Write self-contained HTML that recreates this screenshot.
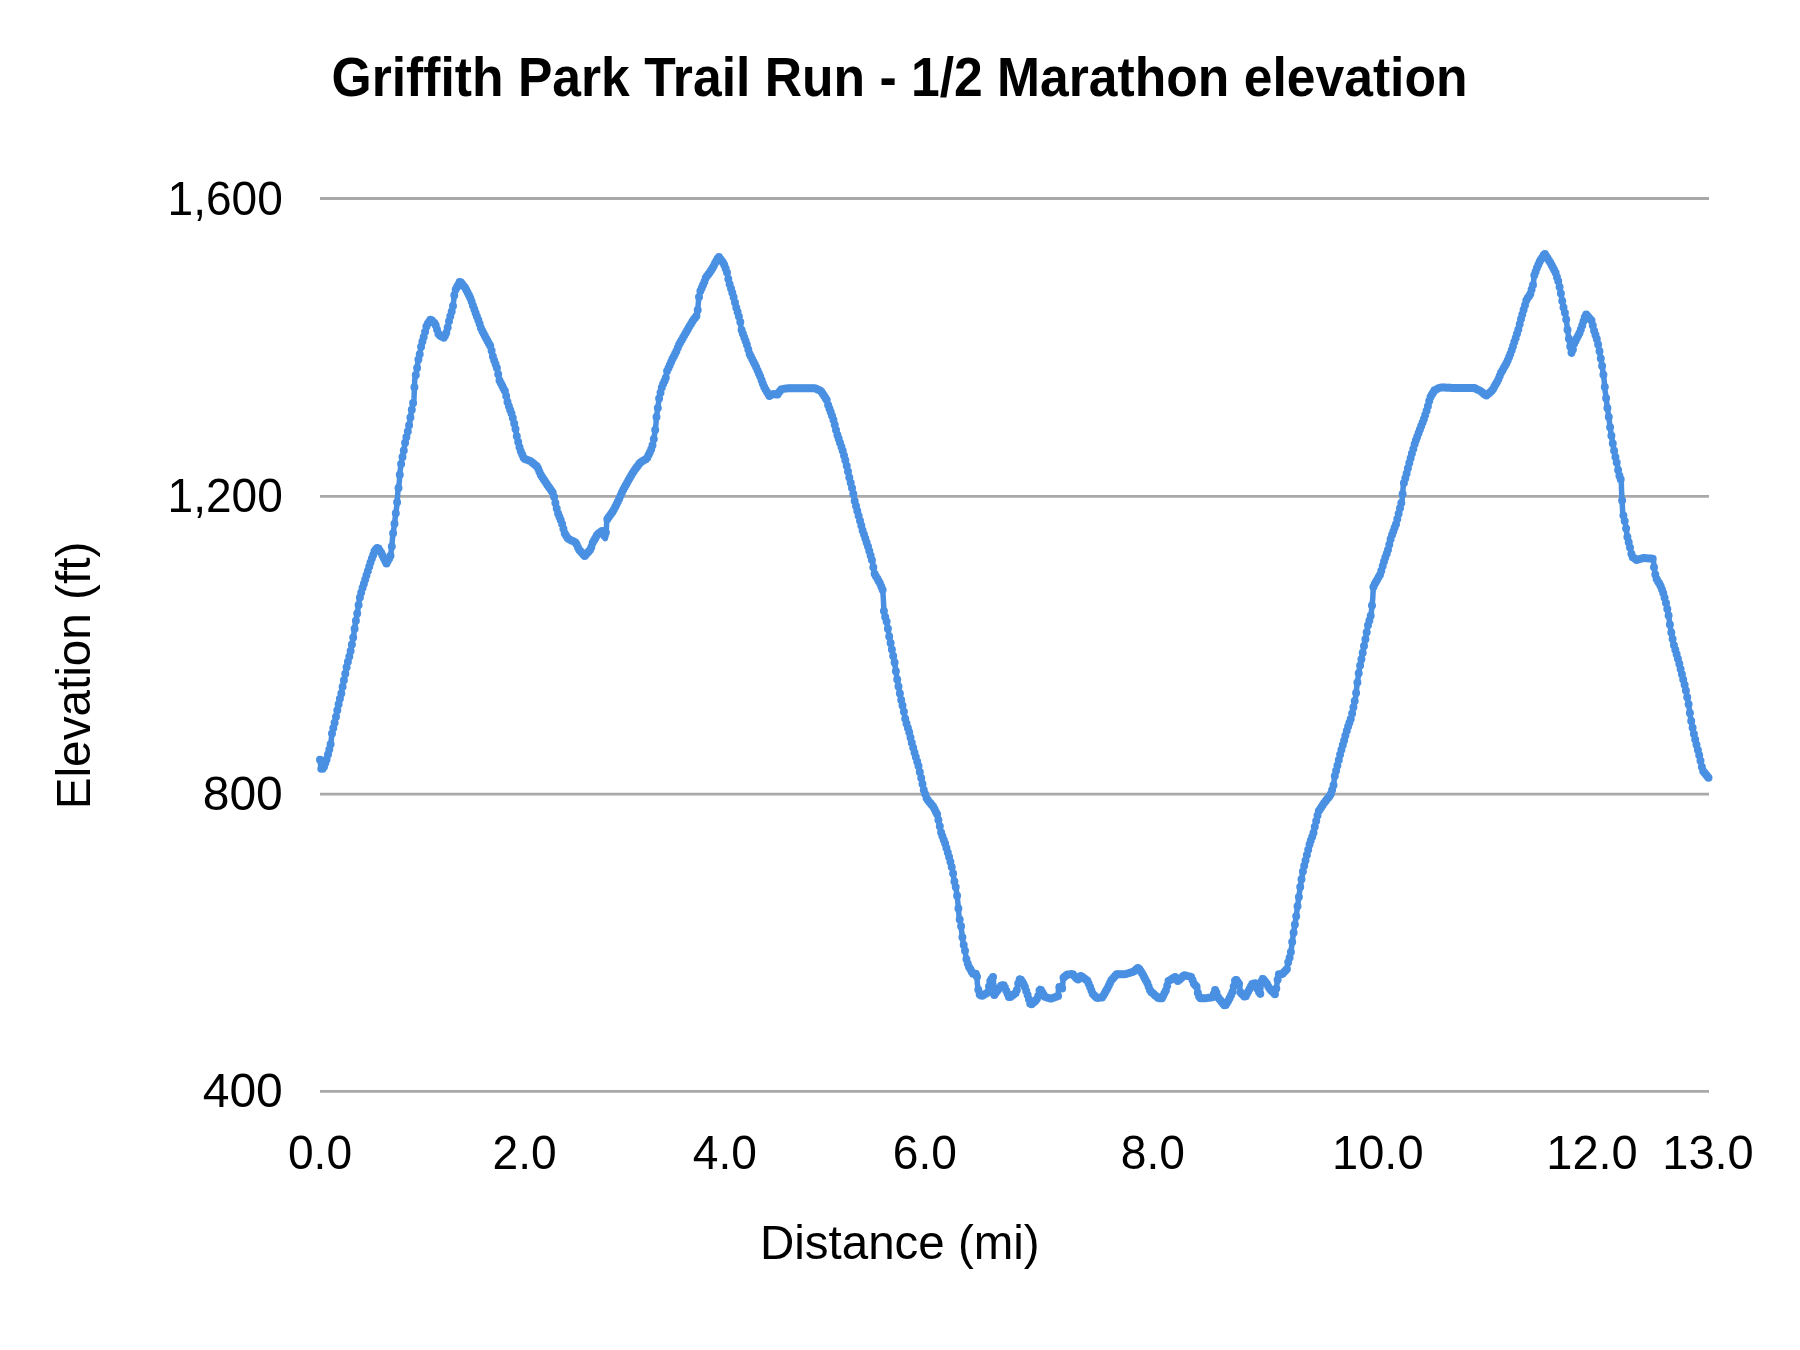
<!DOCTYPE html><html><head><meta charset="utf-8"><title>Griffith Park Trail Run - 1/2 Marathon elevation</title>
<style>html,body{margin:0;padding:0;background:#fff;overflow:hidden;}svg{display:block;will-change:transform;}text{font-family:"Liberation Sans", Arial, sans-serif;fill:#000;}</style></head><body>
<svg width="1800" height="1350" viewBox="0 0 1800 1350">
<rect width="1800" height="1350" fill="#ffffff"/>
<text x="331.5" y="96.3" font-size="55" font-weight="bold" textLength="1136" lengthAdjust="spacingAndGlyphs">Griffith Park Trail Run - 1/2 Marathon elevation</text>
<line x1="320" y1="198.5" x2="1709" y2="198.5" stroke="#a9a9a9" stroke-width="2.8"/>
<line x1="320" y1="496.3" x2="1709" y2="496.3" stroke="#a9a9a9" stroke-width="2.8"/>
<line x1="320" y1="794.1" x2="1709" y2="794.1" stroke="#a9a9a9" stroke-width="2.8"/>
<line x1="320" y1="1091.4" x2="1709" y2="1091.4" stroke="#a9a9a9" stroke-width="2.8"/>
<text x="282.8" y="214.5" font-size="48" text-anchor="end" textLength="115.2" lengthAdjust="spacingAndGlyphs">1,600</text>
<text x="282.8" y="512.3" font-size="48" text-anchor="end" textLength="115.2" lengthAdjust="spacingAndGlyphs">1,200</text>
<text x="282.8" y="810.1" font-size="48" text-anchor="end">800</text>
<text x="282.8" y="1107.4" font-size="48" text-anchor="end">400</text>
<text x="320" y="1169.2" font-size="48" text-anchor="middle" textLength="64.1" lengthAdjust="spacingAndGlyphs">0.0</text>
<text x="524.6" y="1169.2" font-size="48" text-anchor="middle" textLength="64.1" lengthAdjust="spacingAndGlyphs">2.0</text>
<text x="724.8" y="1169.2" font-size="48" text-anchor="middle" textLength="64.1" lengthAdjust="spacingAndGlyphs">4.0</text>
<text x="924.8" y="1169.2" font-size="48" text-anchor="middle" textLength="64.1" lengthAdjust="spacingAndGlyphs">6.0</text>
<text x="1152.8" y="1169.2" font-size="48" text-anchor="middle" textLength="64.1" lengthAdjust="spacingAndGlyphs">8.0</text>
<text x="1377.8" y="1169.2" font-size="48" text-anchor="middle" textLength="91.5" lengthAdjust="spacingAndGlyphs">10.0</text>
<text x="1592" y="1169.2" font-size="48" text-anchor="middle" textLength="91.5" lengthAdjust="spacingAndGlyphs">12.0</text>
<text x="1708" y="1169.2" font-size="48" text-anchor="middle" textLength="91.5" lengthAdjust="spacingAndGlyphs">13.0</text>
<text x="899.8" y="1258.7" font-size="48" text-anchor="middle" textLength="279.7" lengthAdjust="spacingAndGlyphs">Distance (mi)</text>
<text transform="translate(89.5,675.5) rotate(-90)" x="0" y="0" font-size="48" text-anchor="middle" textLength="267.5" lengthAdjust="spacingAndGlyphs">Elevation (ft)</text>
<polyline points="320.0,759.7 321.0,768.8 323.2,768.8 326.5,760.0 328.4,753.0 330.7,744.1 332.0,733.3 335.3,720.0 338.0,706.7 341.3,693.3 344.0,680.0 346.7,666.7 350.7,650.7 353.3,637.3 355.3,624.0 357.3,613.3 359.3,600.0 362.0,589.4 363.7,584.4 367.4,572.6 371.1,560.7 374.8,550.4 377.8,547.4 381.5,553.3 386.4,563.6 390.4,556.3 391.9,545.9 392.6,537.0 394.1,526.7 395.6,514.8 397.0,504.4 397.8,492.6 399.3,482.2 400.0,471.9 401.5,461.5 403.7,451.1 405.2,442.2 407.4,433.3 409.6,423.0 411.3,412.0 414.0,398.7 414.7,380.0 416.7,370.7 418.0,361.3 420.0,353.3 421.3,345.3 424.0,336.0 426.7,325.3 430.7,319.3 435.3,324.0 438.7,334.7 444.0,338.0 446.7,332.0 449.3,320.0 452.7,308.0 454.0,298.7 454.7,291.3 458.0,285.3 460.0,281.3 465.3,288.0 470.7,298.7 473.3,306.7 479.3,322.7 481.3,329.3 490.7,346.7 492.7,356.0 497.3,369.3 499.3,380.0 505.3,392.0 508.0,404.0 512.0,414.7 515.3,428.0 517.3,438.7 520.0,449.3 524.0,458.7 530.7,461.3 537.3,466.7 540.7,474.7 546.7,484.0 553.3,493.3 555.3,502.7 558.0,513.3 561.3,521.3 564.7,533.3 568.0,538.7 576.0,542.7 578.7,549.3 584.7,556.0 590.7,549.3 592.7,542.7 597.3,534.7 603.0,530.0 605.3,538.7 606.5,527.0 606.7,520.0 613.3,510.7 618.7,500.0 622.7,490.7 629.3,478.7 633.3,472.0 640.0,462.7 646.7,458.7 650.7,450.7 653.3,442.7 654.7,433.3 656.0,424.0 656.2,418.7 658.0,406.7 659.3,397.3 662.0,386.7 666.0,377.3 666.7,372.0 672.0,360.0 676.7,350.7 678.7,345.3 684.0,336.0 689.3,326.7 693.3,320.0 697.3,314.7 698.0,306.7 698.7,298.7 700.0,292.0 704.0,282.7 706.0,277.3 712.0,269.3 715.3,262.7 718.7,256.7 724.0,264.0 727.3,273.3 728.7,281.3 733.3,296.0 736.0,306.7 740.0,320.0 741.3,329.3 746.7,344.0 749.3,353.3 756.0,366.7 760.0,376.0 764.0,386.7 769.3,396.0 773.0,394.0 777.3,394.7 781.3,389.3 788.0,388.2 800.0,388.3 814.7,388.3 820.6,390.6 824.2,396.0 826.7,400.0 827.8,404.4 830.6,411.7 833.0,418.3 837.3,434.7 842.7,450.7 846.0,462.7 849.3,477.3 852.7,490.7 854.7,501.3 858.7,516.0 862.7,530.7 868.0,546.7 872.7,562.7 874.0,572.7 877.3,578.7 880.0,583.3 882.7,590.0 883.3,598.0 884.0,612.7 886.7,622.0 889.3,636.7 892.0,650.0 894.7,663.3 896.7,676.7 898.7,687.3 900.7,698.0 903.3,708.7 905.3,719.3 909.3,732.7 912.7,746.0 914.7,753.3 918.7,766.7 921.3,778.7 924.0,790.7 926.7,798.7 933.3,806.7 937.3,814.7 939.3,824.0 941.3,833.3 945.3,844.0 948.0,853.3 950.7,862.7 952.7,870.7 954.0,880.0 956.0,888.0 957.3,897.3 958.2,906.0 959.0,916.0 960.9,924.9 961.8,932.9 963.1,942.7 964.9,949.8 966.2,958.7 968.4,965.8 972.9,973.8 976.9,973.8 977.3,983.6 979.1,994.2 981.8,996.0 988.0,992.4 989.8,981.8 993.3,976.4 994.2,995.1 1001.3,985.3 1004.0,985.3 1009.3,997.8 1016.4,992.4 1018.2,983.6 1020.0,978.2 1024.4,985.3 1030.7,1004.9 1036.0,1000.4 1037.8,997.8 1040.0,988.4 1044.9,996.9 1051.1,998.7 1058.2,996.0 1058.5,986.2 1062.7,988.9 1063.0,978.2 1067.1,974.7 1072.4,973.8 1077.8,980.0 1080.4,975.6 1087.6,980.9 1092.9,994.2 1097.1,998.2 1102.4,997.3 1107.8,987.6 1111.3,980.4 1116.7,974.2 1125.6,974.2 1133.6,971.6 1138.4,967.6 1141.6,972.4 1146.9,982.2 1150.4,991.1 1158.4,998.2 1162.0,998.2 1166.4,989.3 1168.2,981.3 1175.3,976.9 1178.0,981.3 1184.2,975.1 1191.3,976.9 1194.0,984.0 1197.6,987.6 1197.8,994.0 1200.0,998.2 1205.6,998.2 1212.7,997.3 1215.3,989.3 1218.0,997.3 1225.1,1006.2 1228.7,1000.0 1232.2,992.9 1235.5,978.7 1239.8,984.9 1240.0,992.0 1245.1,997.3 1252.2,984.0 1254.9,983.1 1260.2,994.7 1262.0,977.8 1266.4,983.1 1270.0,989.3 1275.3,994.7 1277.1,983.1 1278.4,974.2 1282.4,974.2 1286.9,968.9 1288.7,960.0 1290.4,955.6 1291.3,949.3 1292.2,942.2 1293.6,932.4 1294.9,924.4 1296.2,916.4 1297.6,905.8 1298.9,896.9 1300.2,887.1 1303.0,870.7 1305.9,858.9 1309.6,844.1 1313.3,833.7 1315.6,823.3 1318.5,811.5 1324.4,802.6 1330.4,795.2 1333.3,786.3 1334.8,775.9 1337.8,764.1 1340.7,752.2 1343.7,741.9 1347.4,728.5 1351.1,718.1 1353.3,707.8 1355.6,697.0 1357.1,684.4 1359.4,668.8 1362.6,653.3 1365.7,637.7 1368.0,625.3 1371.1,614.4 1372.7,598.9 1373.4,586.4 1380.4,574.0 1383.5,563.1 1388.2,549.1 1391.3,536.7 1396.0,524.2 1399.1,511.8 1402.2,499.3 1403.3,485.2 1406.3,474.8 1409.3,463.0 1412.2,452.6 1415.2,442.2 1419.6,430.4 1424.1,418.5 1427.8,406.7 1430.0,397.8 1434.4,390.4 1440.4,387.4 1456.7,388.1 1474.4,388.1 1480.4,391.1 1486.3,395.6 1492.2,390.4 1498.1,380.0 1501.1,372.6 1507.0,362.2 1510.7,353.3 1514.8,340.7 1518.5,328.9 1520.7,320.0 1523.7,309.6 1526.7,299.3 1530.0,295.0 1533.5,283.0 1534.0,276.0 1537.0,268.0 1539.0,262.8 1544.6,253.6 1550.4,262.8 1555.3,272.0 1558.4,281.4 1560.8,293.0 1563.0,305.2 1565.9,317.0 1567.4,328.9 1569.6,343.7 1571.9,354.1 1574.1,343.7 1580.0,331.9 1585.9,314.1 1591.5,320.5 1594.0,330.3 1597.4,341.0 1599.8,353.0 1601.8,364.0 1603.7,376.3 1605.2,391.1 1606.7,403.0 1608.9,417.8 1610.4,429.6 1612.7,443.3 1614.7,454.0 1617.3,464.7 1618.7,474.0 1621.3,480.7 1621.5,490.0 1622.0,499.3 1622.7,512.7 1625.3,523.3 1627.3,536.7 1630.0,547.3 1632.0,556.7 1636.7,560.0 1643.3,558.0 1653.3,558.7 1654.0,567.3 1656.0,578.0 1660.7,586.0 1664.0,595.3 1666.7,606.0 1668.5,614.8 1670.7,629.6 1673.7,644.4 1678.1,659.3 1681.9,674.1 1685.6,688.9 1688.5,703.7 1690.7,718.5 1693.7,733.3 1697.4,748.1 1700.4,760.0 1702.6,770.4 1708.5,777.8" fill="none" stroke="#4a90e2" stroke-width="5.5" stroke-linejoin="round" stroke-linecap="round"/>
<path d="M320.0 759.7h0M321.3 768.8h0M322.7 768.8h0M324.0 766.7h0M325.3 763.1h0M326.6 759.4h0M328.0 754.5h0M329.3 749.5h0M330.6 744.3h0M332.0 733.5h0M333.3 728.1h0M334.6 722.7h0M336.0 716.7h0M337.3 710.2h0M338.6 704.2h0M339.9 698.8h0M341.3 693.4h0M342.6 686.8h0M343.9 680.3h0M345.3 673.7h0M346.6 667.2h0M347.9 661.8h0M349.3 656.5h0M350.6 651.1h0M351.9 644.4h0M353.2 637.6h0M354.6 628.8h0M355.9 620.7h0M357.2 613.6h0M358.6 604.9h0M359.9 597.6h0M361.2 592.4h0M362.6 587.8h0M363.9 583.8h0M365.2 579.6h0M366.5 575.3h0M367.9 571.1h0M369.2 566.8h0M370.5 562.5h0M371.9 558.6h0M373.2 554.9h0M374.5 551.2h0M375.9 549.3h0M377.2 548.0h0M378.5 548.5h0M379.8 550.7h0M381.2 552.8h0M382.5 555.4h0M383.8 558.2h0M385.2 561.0h0M386.5 563.4h0M387.8 561.0h0M389.2 558.6h0M390.5 555.7h0M391.8 546.5h0M393.1 533.2h0M394.5 523.7h0M395.8 513.2h0M397.1 502.3h0M398.5 488.0h0M399.8 474.8h0M401.1 464.1h0M402.5 457.0h0M403.8 450.6h0M405.1 442.7h0M406.4 437.1h0M407.8 431.5h0M409.1 425.3h0M410.4 417.6h0M411.8 409.7h0M413.1 403.1h0M414.4 387.2h0M415.8 375.1h0M417.1 367.9h0M418.4 359.6h0M419.7 354.3h0M421.1 346.7h0M422.4 341.5h0M423.7 336.9h0M425.1 331.8h0M426.4 326.5h0M427.7 323.8h0M429.1 321.8h0M430.4 319.8h0M431.7 320.3h0M433.0 321.7h0M434.4 323.1h0M435.7 325.3h0M437.0 329.5h0M438.4 333.7h0M439.7 335.3h0M441.0 336.2h0M442.4 337.0h0M443.7 337.8h0M445.0 335.7h0M446.3 332.8h0M447.7 327.5h0M449.0 321.3h0M450.3 316.3h0M451.7 311.6h0M453.0 305.9h0M454.3 295.2h0M455.7 289.6h0M457.0 287.1h0M458.3 284.7h0M459.6 282.0h0M461.0 282.5h0M462.3 284.2h0M463.6 285.9h0M465.0 287.6h0M466.3 290.0h0M467.6 292.6h0M469.0 295.3h0M470.3 297.9h0M471.6 301.5h0M472.9 305.6h0M474.3 309.3h0M475.6 312.9h0M476.9 316.4h0M478.3 320.0h0M479.6 323.7h0M480.9 328.1h0M482.3 331.1h0M483.6 333.5h0M484.9 336.0h0M486.2 338.5h0M487.6 340.9h0M488.9 343.4h0M490.2 345.8h0M491.6 350.7h0M492.9 356.6h0M494.2 360.4h0M495.6 364.3h0M496.9 368.1h0M498.2 374.2h0M499.5 380.5h0M500.9 383.2h0M502.2 385.8h0M503.5 388.5h0M504.9 391.1h0M506.2 396.0h0M507.5 401.9h0M508.9 406.3h0M510.2 409.9h0M511.5 413.4h0M512.8 418.1h0M514.2 423.5h0M515.5 429.1h0M516.8 436.2h0M518.2 442.1h0M519.5 447.3h0M520.8 451.3h0M522.2 454.4h0M523.5 457.5h0M524.8 459.0h0M526.1 459.5h0M527.5 460.1h0M528.8 460.6h0M530.1 461.1h0M531.5 461.9h0M532.8 463.0h0M534.1 464.1h0M535.5 465.2h0M536.8 466.3h0M538.1 468.6h0M539.4 471.8h0M540.8 474.8h0M542.1 476.9h0M543.4 478.9h0M544.8 481.0h0M546.1 483.1h0M547.4 485.0h0M548.8 486.9h0M550.1 488.8h0M551.4 490.7h0M552.7 492.5h0M554.1 497.0h0M555.4 503.1h0M556.7 508.4h0M558.1 513.5h0M559.4 516.7h0M560.7 519.9h0M562.1 524.0h0M563.4 528.7h0M564.7 533.3h0M566.0 535.5h0M567.4 537.7h0M568.7 539.1h0M570.0 539.7h0M571.4 540.4h0M572.7 541.0h0M574.0 541.7h0M575.4 542.4h0M576.7 544.4h0M578.0 547.6h0M579.3 550.0h0M580.7 551.5h0M582.0 553.0h0M583.3 554.5h0M584.7 556.0h0M586.0 554.5h0M587.3 553.1h0M588.7 551.6h0M590.0 550.1h0M591.3 547.3h0M592.6 542.9h0M594.0 540.5h0M595.3 538.2h0M596.6 535.8h0M598.0 534.1h0M599.3 533.1h0M600.6 532.0h0M602.0 530.9h0M603.3 531.1h0M604.6 536.1h0M605.9 532.4h0M607.3 519.2h0M608.6 517.3h0M609.9 515.4h0M611.3 513.6h0M612.6 511.7h0M613.9 509.5h0M615.3 506.8h0M616.6 504.2h0M617.9 501.5h0M619.2 498.7h0M620.6 495.6h0M621.9 492.5h0M623.2 489.7h0M624.6 487.3h0M625.9 484.9h0M627.2 482.5h0M628.6 480.0h0M629.9 477.7h0M631.2 475.5h0M632.5 473.3h0M633.9 471.2h0M635.2 469.3h0M636.5 467.5h0M637.9 465.7h0M639.2 463.8h0M640.5 462.4h0M641.9 461.6h0M643.2 460.8h0M644.5 460.0h0M645.8 459.2h0M647.2 457.7h0M648.5 455.1h0M649.8 452.4h0M651.2 449.3h0M652.5 445.2h0M653.8 439.1h0M655.2 430.0h0M656.5 417.1h0M657.8 407.9h0M659.1 398.4h0M660.5 392.7h0M661.8 387.4h0M663.1 384.0h0M664.5 380.9h0M665.8 377.8h0M667.1 371.0h0M668.5 368.0h0M669.8 365.0h0M671.1 362.0h0M672.4 359.1h0M673.8 356.5h0M675.1 353.8h0M676.4 351.2h0M677.8 347.8h0M679.1 344.6h0M680.4 342.3h0M681.8 339.9h0M683.1 337.6h0M684.4 335.3h0M685.7 332.9h0M687.1 330.6h0M688.4 328.3h0M689.7 326.0h0M691.1 323.7h0M692.4 321.5h0M693.7 319.4h0M695.1 317.7h0M696.4 315.9h0M697.7 309.9h0M699.0 296.9h0M700.4 291.1h0M701.7 288.0h0M703.0 284.9h0M704.4 281.7h0M705.7 278.1h0M707.0 275.9h0M708.4 274.2h0M709.7 272.4h0M711.0 270.6h0M712.3 268.6h0M713.7 265.9h0M715.0 263.3h0M716.3 260.9h0M717.7 258.5h0M719.0 257.1h0M720.3 258.9h0M721.7 260.8h0M723.0 262.6h0M724.3 264.9h0M725.6 268.6h0M727.0 272.4h0M728.3 279.1h0M729.6 284.3h0M731.0 288.6h0M732.3 292.8h0M733.6 297.3h0M735.0 302.6h0M736.3 307.7h0M737.6 312.1h0M738.9 316.5h0M740.3 322.0h0M741.6 330.1h0M742.9 333.8h0M744.3 337.4h0M745.6 341.0h0M746.9 344.8h0M748.3 349.6h0M749.6 353.9h0M750.9 356.5h0M752.2 359.2h0M753.6 361.9h0M754.9 364.5h0M756.2 367.3h0M757.6 370.4h0M758.9 373.4h0M760.2 376.6h0M761.6 380.2h0M762.9 383.7h0M764.2 387.1h0M765.5 389.4h0M766.9 391.8h0M768.2 394.1h0M769.5 395.9h0M770.9 395.2h0M772.2 394.4h0M773.5 394.1h0M774.9 394.3h0M776.2 394.5h0M777.5 394.4h0M778.8 392.6h0M780.2 390.8h0M781.5 389.3h0M782.8 389.0h0M784.2 388.8h0M785.5 388.6h0M786.8 388.4h0M788.2 388.2h0M789.5 388.2h0M790.8 388.2h0M792.1 388.2h0M793.5 388.2h0M794.8 388.3h0M796.1 388.3h0M797.5 388.3h0M798.8 388.3h0M800.1 388.3h0M801.5 388.3h0M802.8 388.3h0M804.1 388.3h0M805.4 388.3h0M806.8 388.3h0M808.1 388.3h0M809.4 388.3h0M810.8 388.3h0M812.1 388.3h0M813.4 388.3h0M814.8 388.3h0M816.1 388.8h0M817.4 389.4h0M818.7 389.9h0M820.1 390.4h0M821.4 391.8h0M822.7 393.8h0M824.1 395.8h0M825.4 397.9h0M826.7 400.1h0M828.1 405.1h0M829.4 408.5h0M830.7 412.0h0M832.0 415.7h0M833.4 419.7h0M834.7 424.8h0M836.0 429.9h0M837.4 434.9h0M838.7 438.8h0M840.0 442.8h0M841.4 446.7h0M842.7 450.7h0M844.0 455.5h0M845.3 460.3h0M846.7 465.7h0M848.0 471.6h0M849.3 477.5h0M850.7 482.7h0M852.0 487.9h0M853.3 494.0h0M854.7 501.1h0M856.0 506.0h0M857.3 510.9h0M858.6 515.8h0M860.0 520.7h0M861.3 525.6h0M862.6 530.5h0M864.0 534.5h0M865.3 538.5h0M866.6 542.6h0M868.0 546.6h0M869.3 551.1h0M870.6 555.6h0M871.9 560.1h0M873.3 567.2h0M874.6 573.8h0M875.9 576.2h0M877.3 578.6h0M878.6 580.9h0M879.9 583.2h0M881.3 586.4h0M882.6 589.7h0M883.9 611.0h0M885.2 617.0h0M886.6 621.6h0M887.9 628.8h0M889.2 636.4h0M890.6 643.0h0M891.9 649.5h0M893.2 656.1h0M894.6 662.6h0M895.9 671.3h0M897.2 679.5h0M898.5 686.5h0M899.9 693.6h0M901.2 700.1h0M902.5 705.6h0M903.9 711.7h0M905.2 718.8h0M906.5 723.4h0M907.9 727.9h0M909.2 732.3h0M910.5 737.5h0M911.8 742.7h0M913.2 747.8h0M914.5 752.6h0M915.8 757.1h0M917.2 761.6h0M918.5 766.0h0M919.8 771.9h0M921.2 778.1h0M922.5 784.0h0M923.8 789.9h0M925.1 794.1h0M926.5 798.0h0M927.8 800.0h0M929.1 801.7h0M930.5 803.3h0M931.8 804.9h0M933.1 806.5h0M934.5 809.0h0M935.8 811.7h0M937.1 814.3h0M938.4 820.0h0M939.8 826.2h0M941.1 832.4h0M942.4 836.3h0M943.8 839.9h0M945.1 843.5h0M946.4 847.9h0M947.8 852.5h0M949.1 857.1h0M950.4 861.7h0M951.7 866.9h0M953.1 873.4h0M954.4 881.6h0M955.7 887.0h0M957.1 895.7h0M958.4 908.5h0M959.7 919.4h0M961.1 926.3h0M962.4 937.3h0M963.7 945.1h0M965.0 950.8h0M966.4 959.3h0M967.7 963.6h0M969.0 966.9h0M970.4 969.3h0M971.7 971.7h0M973.0 973.8h0M974.4 973.8h0M975.7 973.8h0M977.0 976.7h0M978.3 989.8h0M979.7 994.6h0M981.0 995.5h0M982.3 995.7h0M983.7 994.9h0M985.0 994.1h0M986.3 993.4h0M987.7 992.6h0M989.0 986.6h0M990.3 981.0h0M991.6 978.9h0M993.0 976.9h0M994.3 994.9h0M995.6 993.1h0M997.0 991.3h0M998.3 989.4h0M999.6 987.6h0M1001.0 985.8h0M1002.3 985.3h0M1003.6 985.3h0M1004.9 987.5h0M1006.3 990.7h0M1007.6 993.8h0M1008.9 997.0h0M1010.3 997.1h0M1011.6 996.1h0M1012.9 995.0h0M1014.3 994.0h0M1015.6 993.0h0M1016.9 989.9h0M1018.2 983.5h0M1019.6 979.5h0M1020.9 979.7h0M1022.2 981.8h0M1023.6 984.0h0M1024.9 986.9h0M1026.2 991.0h0M1027.6 995.1h0M1028.9 999.3h0M1030.2 1003.4h0M1031.5 1004.2h0M1032.9 1003.0h0M1034.2 1001.9h0M1035.5 1000.8h0M1036.9 999.1h0M1038.2 996.1h0M1039.5 990.4h0M1040.9 989.9h0M1042.2 992.2h0M1043.5 994.5h0M1044.8 996.8h0M1046.2 997.3h0M1047.5 997.7h0M1048.8 998.0h0M1050.2 998.4h0M1051.5 998.5h0M1052.8 998.0h0M1054.2 997.5h0M1055.5 997.0h0M1056.8 996.5h0M1058.1 996.0h0M1059.5 986.9h0M1060.8 987.7h0M1062.1 988.5h0M1063.5 977.8h0M1064.8 976.6h0M1066.1 975.5h0M1067.5 974.6h0M1068.8 974.4h0M1070.1 974.2h0M1071.4 974.0h0M1072.8 974.2h0M1074.1 975.8h0M1075.4 977.3h0M1076.8 978.8h0M1078.1 979.5h0M1079.4 977.2h0M1080.8 975.9h0M1082.1 976.8h0M1083.4 977.8h0M1084.7 978.8h0M1086.1 979.8h0M1087.4 980.8h0M1088.7 983.8h0M1090.1 987.1h0M1091.4 990.4h0M1092.7 993.8h0M1094.1 995.3h0M1095.4 996.6h0M1096.7 997.8h0M1098.0 998.0h0M1099.4 997.8h0M1100.7 997.6h0M1102.0 997.4h0M1103.4 995.6h0M1104.7 993.2h0M1106.0 990.8h0M1107.4 988.4h0M1108.7 985.8h0M1110.0 983.0h0M1111.3 980.3h0M1112.7 978.8h0M1114.0 977.3h0M1115.3 975.8h0M1116.7 974.2h0M1118.0 974.2h0M1119.3 974.2h0M1120.7 974.2h0M1122.0 974.2h0M1123.3 974.2h0M1124.6 974.2h0M1126.0 974.1h0M1127.3 973.6h0M1128.6 973.2h0M1130.0 972.8h0M1131.3 972.3h0M1132.6 971.9h0M1134.0 971.3h0M1135.3 970.2h0M1136.6 969.1h0M1137.9 968.0h0M1139.3 968.9h0M1140.6 970.9h0M1141.9 973.0h0M1143.3 975.5h0M1144.6 977.9h0M1145.9 980.4h0M1147.3 983.1h0M1148.6 986.5h0M1149.9 989.9h0M1151.2 991.9h0M1152.6 993.0h0M1153.9 994.2h0M1155.2 995.4h0M1156.6 996.6h0M1157.9 997.8h0M1159.2 998.2h0M1160.6 998.2h0M1161.9 998.2h0M1163.2 995.7h0M1164.5 993.0h0M1165.9 990.4h0M1167.2 985.7h0M1168.5 981.1h0M1169.9 980.3h0M1171.2 979.4h0M1172.5 978.6h0M1173.9 977.8h0M1175.2 977.0h0M1176.5 978.9h0M1177.8 981.1h0M1179.2 980.1h0M1180.5 978.8h0M1181.8 977.5h0M1183.2 976.1h0M1184.5 975.2h0M1185.8 975.5h0M1187.2 975.9h0M1188.5 976.2h0M1189.8 976.5h0M1191.1 976.9h0M1192.5 980.0h0M1193.8 983.5h0M1195.1 985.1h0M1196.5 986.5h0M1197.8 992.7h0M1199.1 996.5h0M1200.5 998.2h0M1201.8 998.2h0M1203.1 998.2h0M1204.4 998.2h0M1205.8 998.2h0M1207.1 998.0h0M1208.4 997.8h0M1209.8 997.7h0M1211.1 997.5h0M1212.4 997.3h0M1213.8 994.0h0M1215.1 989.9h0M1216.4 992.6h0M1217.7 996.6h0M1219.1 998.7h0M1220.4 1000.3h0M1221.7 1002.0h0M1223.1 1003.7h0M1224.4 1005.3h0M1225.7 1005.1h0M1227.1 1002.8h0M1228.4 1000.5h0M1229.7 997.9h0M1231.0 995.2h0M1232.4 992.1h0M1233.7 986.4h0M1235.0 980.7h0M1236.4 980.0h0M1237.7 981.9h0M1239.0 983.8h0M1240.4 992.3h0M1241.7 993.7h0M1243.0 995.1h0M1244.3 996.5h0M1245.7 996.2h0M1247.0 993.7h0M1248.3 991.2h0M1249.7 988.7h0M1251.0 986.2h0M1252.3 984.0h0M1253.7 983.5h0M1255.0 983.3h0M1256.3 986.2h0M1257.6 989.1h0M1259.0 992.0h0M1260.3 993.7h0M1261.6 981.2h0M1263.0 979.0h0M1264.3 980.6h0M1265.6 982.2h0M1267.0 984.1h0M1268.3 986.4h0M1269.6 988.6h0M1270.9 990.3h0M1272.3 991.6h0M1273.6 993.0h0M1274.9 994.3h0M1276.3 988.4h0M1277.6 979.7h0M1278.9 974.2h0M1280.3 974.2h0M1281.6 974.2h0M1282.9 973.6h0M1284.2 972.0h0M1285.6 970.5h0M1286.9 968.9h0M1288.2 962.3h0M1289.6 957.7h0M1290.9 952.1h0M1292.2 942.0h0M1293.6 932.7h0M1294.9 924.5h0M1296.2 916.2h0M1297.5 906.2h0M1298.9 897.0h0M1300.2 887.0h0M1301.5 879.3h0M1302.9 871.5h0M1304.2 865.8h0M1305.5 860.4h0M1306.9 855.1h0M1308.2 849.7h0M1309.5 844.4h0M1310.8 840.6h0M1312.2 836.8h0M1313.5 832.8h0M1314.8 826.7h0M1316.2 821.0h0M1317.5 815.6h0M1318.8 811.0h0M1320.2 809.0h0M1321.5 807.0h0M1322.8 805.0h0M1324.1 803.0h0M1325.5 801.3h0M1326.8 799.6h0M1328.1 798.0h0M1329.5 796.3h0M1330.8 794.0h0M1332.1 789.9h0M1333.5 785.2h0M1334.8 776.0h0M1336.1 770.7h0M1337.4 765.5h0M1338.8 760.1h0M1340.1 754.6h0M1341.4 749.7h0M1342.8 745.1h0M1344.1 740.5h0M1345.4 735.6h0M1346.8 730.8h0M1348.1 726.6h0M1349.4 722.8h0M1350.7 719.1h0M1352.1 713.5h0M1353.4 707.3h0M1354.7 701.0h0M1356.1 693.1h0M1357.4 682.4h0M1358.7 673.3h0M1360.1 665.6h0M1361.4 659.2h0M1362.7 652.7h0M1364.0 646.0h0M1365.4 639.3h0M1366.7 632.3h0M1368.0 625.2h0M1369.4 620.5h0M1370.7 615.8h0M1372.0 605.4h0M1373.4 587.1h0M1374.7 584.1h0M1376.0 581.8h0M1377.3 579.4h0M1378.7 577.0h0M1380.0 574.7h0M1381.3 570.7h0M1382.7 566.0h0M1384.0 561.6h0M1385.3 557.6h0M1386.7 553.7h0M1388.0 549.7h0M1389.3 544.6h0M1390.6 539.3h0M1392.0 534.9h0M1393.3 531.4h0M1394.6 527.8h0M1396.0 524.3h0M1397.3 519.0h0M1398.6 513.7h0M1400.0 508.3h0M1401.3 503.0h0M1402.6 493.9h0M1403.9 482.9h0M1405.3 478.3h0M1406.6 473.6h0M1407.9 468.3h0M1409.3 463.1h0M1410.6 458.3h0M1411.9 453.6h0M1413.3 448.9h0M1414.6 444.3h0M1415.9 440.3h0M1417.2 436.7h0M1418.6 433.1h0M1419.9 429.6h0M1421.2 426.1h0M1422.6 422.5h0M1423.9 419.0h0M1425.2 414.9h0M1426.6 410.7h0M1427.9 406.3h0M1429.2 401.0h0M1430.5 396.9h0M1431.9 394.6h0M1433.2 392.4h0M1434.5 390.3h0M1435.9 389.7h0M1437.2 389.0h0M1438.5 388.3h0M1439.9 387.7h0M1441.2 387.4h0M1442.5 387.5h0M1443.8 387.5h0M1445.2 387.6h0M1446.5 387.7h0M1447.8 387.7h0M1449.2 387.8h0M1450.5 387.8h0M1451.8 387.9h0M1453.2 387.9h0M1454.5 388.0h0M1455.8 388.1h0M1457.1 388.1h0M1458.5 388.1h0M1459.8 388.1h0M1461.1 388.1h0M1462.5 388.1h0M1463.8 388.1h0M1465.1 388.1h0M1466.5 388.1h0M1467.8 388.1h0M1469.1 388.1h0M1470.4 388.1h0M1471.8 388.1h0M1473.1 388.1h0M1474.4 388.1h0M1475.8 388.8h0M1477.1 389.4h0M1478.4 390.1h0M1479.8 390.8h0M1481.1 391.6h0M1482.4 392.6h0M1483.7 393.7h0M1485.1 394.7h0M1486.4 395.5h0M1487.7 394.3h0M1489.1 393.2h0M1490.4 392.0h0M1491.7 390.8h0M1493.1 388.9h0M1494.4 386.5h0M1495.7 384.2h0M1497.0 381.9h0M1498.4 379.3h0M1499.7 376.0h0M1501.0 372.7h0M1502.4 370.4h0M1503.7 368.0h0M1505.0 365.7h0M1506.4 363.3h0M1507.7 360.5h0M1509.0 357.3h0M1510.3 354.1h0M1511.7 350.3h0M1513.0 346.2h0M1514.3 342.1h0M1515.7 337.9h0M1517.0 333.7h0M1518.3 329.4h0M1519.7 324.2h0M1521.0 319.0h0M1522.3 314.4h0M1523.6 309.8h0M1525.0 305.2h0M1526.3 300.6h0M1527.6 298.1h0M1529.0 296.3h0M1530.3 294.0h0M1531.6 289.4h0M1533.0 284.9h0M1534.3 275.2h0M1535.6 271.7h0M1536.9 268.1h0M1538.3 264.7h0M1539.6 261.8h0M1540.9 259.6h0M1542.3 257.4h0M1543.6 255.2h0M1544.9 254.1h0M1546.3 256.2h0M1547.6 258.3h0M1548.9 260.5h0M1550.2 262.6h0M1551.6 265.0h0M1552.9 267.5h0M1554.2 270.0h0M1555.6 272.8h0M1556.9 276.9h0M1558.2 280.9h0M1559.6 287.0h0M1560.9 293.5h0M1562.2 300.9h0M1563.5 307.4h0M1564.9 312.8h0M1566.2 319.5h0M1567.5 329.8h0M1568.9 338.8h0M1570.2 346.4h0M1571.5 352.4h0M1572.9 349.6h0M1574.2 343.5h0M1575.5 340.9h0M1576.8 338.2h0M1578.2 335.5h0M1579.5 332.9h0M1580.8 329.4h0M1582.2 325.4h0M1583.5 321.3h0M1584.8 317.3h0M1586.2 314.4h0M1587.5 315.9h0M1588.8 317.4h0M1590.1 319.0h0M1591.5 320.5h0M1592.8 325.6h0M1594.1 330.7h0M1595.5 334.9h0M1596.8 339.1h0M1598.1 344.6h0M1599.5 351.3h0M1600.8 358.4h0M1602.1 366.1h0M1603.4 374.7h0M1604.8 387.0h0M1606.1 398.3h0M1607.4 408.0h0M1608.8 416.9h0M1610.1 427.2h0M1611.4 435.7h0M1612.8 443.6h0M1614.1 450.7h0M1615.4 457.0h0M1616.7 462.4h0M1618.1 469.9h0M1619.4 475.8h0M1620.7 479.3h0M1622.1 500.6h0M1623.4 515.6h0M1624.7 521.0h0M1626.1 528.4h0M1627.4 537.1h0M1628.7 542.3h0M1630.0 547.5h0M1631.4 553.8h0M1632.7 557.2h0M1634.0 558.1h0M1635.4 559.1h0M1636.7 560.0h0M1638.0 559.6h0M1639.4 559.2h0M1640.7 558.8h0M1642.0 558.4h0M1643.3 558.0h0M1644.7 558.1h0M1646.0 558.2h0M1647.3 558.3h0M1648.7 558.4h0M1650.0 558.5h0M1651.3 558.6h0M1652.7 558.7h0M1654.0 567.2h0M1655.3 574.4h0M1656.6 579.1h0M1658.0 581.4h0M1659.3 583.6h0M1660.6 585.9h0M1662.0 589.6h0M1663.3 593.3h0M1664.6 597.8h0M1666.0 603.1h0M1667.3 608.9h0M1668.6 615.6h0M1669.9 624.6h0M1671.3 632.5h0M1672.6 639.0h0M1673.9 645.2h0M1675.3 649.7h0M1676.6 654.2h0M1677.9 658.7h0M1679.3 663.8h0M1680.6 669.0h0M1681.9 674.2h0M1683.2 679.5h0M1684.6 684.8h0M1685.9 690.5h0M1687.2 697.3h0M1688.6 704.2h0M1689.9 713.1h0M1691.2 721.1h0M1692.6 727.7h0M1693.9 734.1h0M1695.2 739.4h0M1696.5 744.7h0M1697.9 750.0h0M1699.2 755.3h0M1700.5 760.7h0M1701.9 766.9h0M1703.2 771.2h0M1704.5 772.8h0M1705.9 774.5h0M1707.2 776.2h0M1708.5 777.8h0" fill="none" stroke="#4a90e2" stroke-width="8.0" stroke-linecap="round"/>
</svg></body></html>
